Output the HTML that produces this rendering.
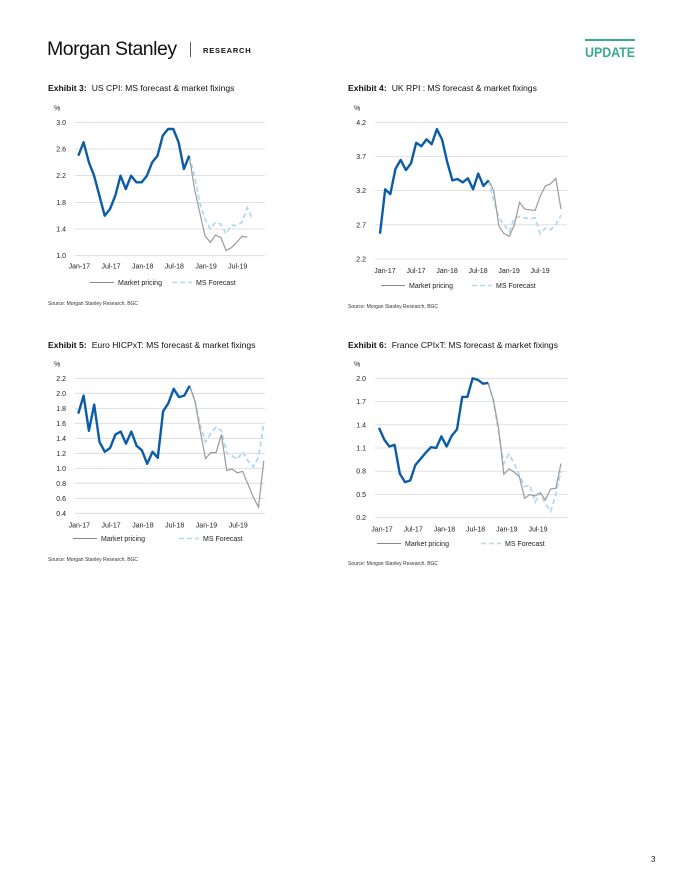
<!DOCTYPE html>
<html><head><meta charset="utf-8">
<style>
html,body{margin:0;padding:0;background:#fff;}
svg{display:block;font-family:"Liberation Sans",sans-serif;}
</style></head>
<body>
<svg id="page" width="680" height="880" viewBox="0 0 680 880">
  <g>
    <text x="47" y="55" font-size="19.5" fill="#111" letter-spacing="-0.5">Morgan Stanley</text>
    <line x1="190.5" y1="42" x2="190.5" y2="57" stroke="#333" stroke-width="0.8"/>
    <text x="203" y="53" font-size="7.5" font-weight="bold" fill="#111" letter-spacing="0.8">RESEARCH</text>
    <line x1="585" y1="40" x2="635" y2="40" stroke="#3aaa8e" stroke-width="2"/>
    <text x="585" y="57" font-size="14" font-weight="bold" fill="#3aaa8e" textLength="50" lengthAdjust="spacingAndGlyphs">UPDATE</text>
  </g>
  <text x="651" y="862" font-size="8" fill="#222">3</text>
  <g id="charts"></g>
</svg>
<script>
// ---- Chart data ----
const xTickLabels = ["Jan-17","Jul-17","Jan-18","Jul-18","Jan-19","Jul-19"];

const usTicks = [1.0,1.4,1.8,2.2,2.6,3.0];
const usHist = [2.5,2.7,2.4,2.2,1.9,1.6,1.7,1.9,2.2,2.0,2.2,2.1,2.1,2.2,2.4,2.5,2.8,2.9,2.9,2.7,2.3,2.5];
const usMarket = [2.5,2.0,1.65,1.3,1.2,1.31,1.27,1.08,1.12,1.2,1.29,1.28];
const usForecast = [2.5,2.2,1.8,1.55,1.4,1.5,1.47,1.33,1.46,1.45,1.5,1.72,1.55];

const ukTicks = [2.2,2.7,3.2,3.7,4.2];
const ukHist = [2.57,3.22,3.15,3.52,3.65,3.5,3.6,3.9,3.85,3.95,3.88,4.1,3.95,3.62,3.35,3.37,3.32,3.38,3.22,3.45,3.27,3.35];
const ukMarket = [3.35,3.2,2.68,2.57,2.53,2.7,3.03,2.93,2.92,2.91,3.12,3.27,3.3,3.38,2.93];
const ukForecast = [3.35,3.05,2.8,2.7,2.6,2.8,2.82,2.8,2.79,2.8,2.57,2.65,2.63,2.7,2.84];

const euTicks = [0.4,0.6,0.8,1.0,1.2,1.4,1.6,1.8,2.0,2.2];
const euHist = [1.73,1.97,1.5,1.85,1.35,1.22,1.27,1.45,1.49,1.33,1.49,1.3,1.24,1.06,1.22,1.14,1.76,1.87,2.06,1.95,1.97,2.1];
const euMarket = [2.1,1.9,1.5,1.13,1.21,1.21,1.45,0.97,0.99,0.94,0.96,0.79,0.62,0.48,1.1];
const euForecast = [2.1,1.9,1.58,1.35,1.47,1.55,1.5,1.2,1.17,1.12,1.22,1.1,1.02,1.15,1.6];

const frTicks = [0.2,0.5,0.8,1.1,1.4,1.7,2.0];
const frHist = [1.36,1.21,1.12,1.14,0.77,0.66,0.68,0.88,0.96,1.04,1.11,1.1,1.25,1.12,1.26,1.34,1.76,1.76,2.0,1.98,1.93,1.94];
const frMarket = [1.94,1.72,1.35,0.76,0.83,0.79,0.73,0.45,0.5,0.48,0.52,0.43,0.57,0.58,0.9];
const frForecast = [1.94,1.7,1.3,0.9,1.02,0.9,0.75,0.6,0.62,0.4,0.52,0.38,0.28,0.5,0.8];

const NS="http://www.w3.org/2000/svg";
const root=document.getElementById('charts');
function mk(tag,attrs,parent){const e=document.createElementNS(NS,tag);for(const k in attrs)e.setAttribute(k,attrs[k]);parent.appendChild(e);return e;}

function drawChart(cfg){
  const g=mk('g',{},root);
  
  
  const minV=cfg.ticks[0],maxV=cfg.ticks[cfg.ticks.length-1];
  const y=v=>cfg.yBot-(v-minV)/(maxV-minV)*(cfg.yBot-cfg.yTop);
  const x=i=>cfg.x0+i*cfg.dx;
  let t=mk('text',{x:cfg.gx0-27,y:cfg.titleY,'font-size':8.6,fill:'#111'},g);
  
  
  const b=mk('tspan',{'font-weight':'bold'},t);b.textContent=cfg.exhibit;
  const r=mk('tspan',{dx:5},t);r.textContent=cfg.title;
  t=mk('text',{x:cfg.gx0-21,y:cfg.yTop-12,'font-size':7,fill:'#222'},g);t.textContent='%';
  
  
  cfg.ticks.forEach(v=>{
    const l=mk('line',{x1:cfg.gx0,x2:cfg.gx1,y1:y(v),y2:y(v),stroke:'#d9d9d9','stroke-width':0.8},g);
    
    
    const tt=mk('text',{x:cfg.gx0-9,y:y(v)+2.5,'font-size':7,fill:'#222','text-anchor':'end'},g);
    tt.textContent=v.toFixed(1);
    
    
  });
  xTickLabels.forEach((s,i)=>{
    const tt=mk('text',{x:x(i*6)+cfg.lblOff,y:cfg.yBot+cfg.lblGap,'font-size':7,fill:'#222','text-anchor':'middle'},g);
    tt.textContent=s;
    
    
  });
  const start=cfg.hist.length-1;
  const pts=(arr,off)=>arr.map((v,i)=>x(i+off).toFixed(1)+','+y(v).toFixed(1)).join(' ');
  let p=mk('polyline',{points:pts(cfg.forecast,start),fill:'none',stroke:'#b5d8f0','stroke-width':1.8,'stroke-dasharray':'5,3'},g);
  
  
  p=mk('polyline',{points:pts(cfg.market,start),fill:'none',stroke:'#9a9a9a','stroke-width':1.2},g);
  
  
  p=mk('polyline',{points:pts(cfg.hist,0),fill:'none',stroke:'#0b5ca6','stroke-width':2.4,'stroke-linejoin':'round'},g);
  
  
  const ly=cfg.legY;
  let l=mk('line',{x1:cfg.gx0+cfg.leg1,x2:cfg.gx0+cfg.leg1+24,y1:ly-2.5,y2:ly-2.5,stroke:'#888','stroke-width':1},g);
  
  
  t=mk('text',{x:cfg.gx0+cfg.leg1+28,y:ly,'font-size':7,fill:'#222'},g);t.textContent='Market pricing';
  
  
  l=mk('line',{x1:cfg.gx0+cfg.leg2,x2:cfg.gx0+cfg.leg2+20,y1:ly-2.5,y2:ly-2.5,stroke:'#b5d8f0','stroke-width':1.6,'stroke-dasharray':'5,3'},g);
  
  
  t=mk('text',{x:cfg.gx0+cfg.leg2+24,y:ly,'font-size':7,fill:'#222'},g);t.textContent='MS Forecast';
  
  
  t=mk('text',{x:cfg.gx0-27,y:cfg.srcY,'font-size':5,fill:'#333'},g);t.textContent='Source: Morgan Stanley Research, BGC';
  
  
}

drawChart({name:'us-cpi-chart',exhibit:'Exhibit 3:',title:'US CPI: MS forecast & market fixings',ticks:usTicks,hist:usHist,market:usMarket,forecast:usForecast,
  gx0:75,gx1:265,yTop:122.3,yBot:255.7,x0:78.3,dx:5.28,lblOff:1,lblGap:13,titleY:91,legY:285,leg1:15,leg2:97,srcY:305});
drawChart({name:'uk-rpi-chart',exhibit:'Exhibit 4:',title:'UK RPI : MS forecast & market fixings',ticks:ukTicks,hist:ukHist,market:ukMarket,forecast:ukForecast,
  gx0:375,gx1:567,yTop:122.3,yBot:259,x0:380,dx:5.17,lblOff:5,lblGap:14,titleY:91,legY:288,leg1:6,leg2:97,srcY:308});
drawChart({name:'euro-hicpxt-chart',exhibit:'Exhibit 5:',title:'Euro HICPxT: MS forecast & market fixings',ticks:euTicks,hist:euHist,market:euMarket,forecast:euForecast,
  gx0:75,gx1:265,yTop:378.3,yBot:513.3,x0:78.3,dx:5.3,lblOff:1,lblGap:14,titleY:348,legY:541,leg1:-2,leg2:104,srcY:561});
drawChart({name:'france-cpixt-chart',exhibit:'Exhibit 6:',title:'France CPIxT: MS forecast & market fixings',ticks:frTicks,hist:frHist,market:frMarket,forecast:frForecast,
  gx0:375,gx1:567,yTop:378.3,yBot:517.7,x0:379,dx:5.2,lblOff:3,lblGap:14,titleY:348,legY:546,leg1:2,leg2:106,srcY:565});
</script>
</body></html>
